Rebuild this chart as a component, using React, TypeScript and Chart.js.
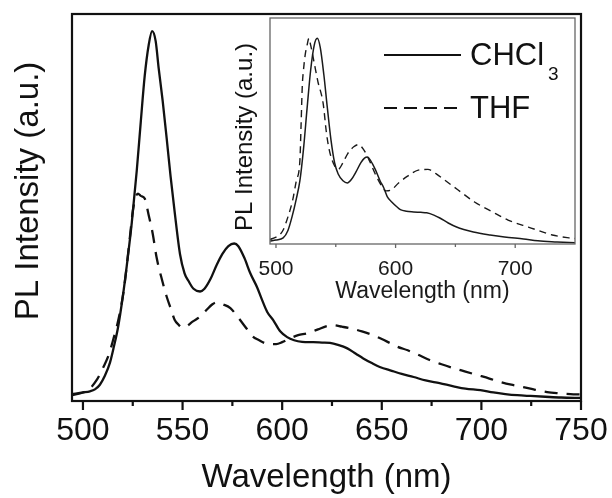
import React, { useEffect, useRef } from "react";
import { Chart, registerables } from "chart.js";
Chart.register(...registerables);

const FONT = "'Liberation Sans', Arial, Helvetica, sans-serif";

// ---------- main plot data ----------
const mainChcl3Nm = [494.5, 500, 503.5, 506, 508.5, 511, 513.6, 515.5, 517.6, 520, 522, 524.5, 527, 529, 531, 533, 534.7, 536.5, 538, 540, 542, 544, 546, 548.7, 551, 553, 555.5, 558.8, 561, 564, 567, 570, 573, 575.9, 578, 581, 584, 587.4, 590, 592.5, 595.5, 599, 602.5, 606, 610, 615.6, 620, 624, 628, 632.7, 637, 640.7, 645, 649, 655, 660, 666, 672, 679, 686, 692, 699.5, 706, 712, 718, 724.6, 732, 740, 750];
const mainChcl3Int = [0.018, 0.022, 0.025, 0.03, 0.042, 0.065, 0.1, 0.14, 0.19, 0.27, 0.35, 0.46, 0.595, 0.72, 0.84, 0.92, 0.956, 0.93, 0.86, 0.776, 0.68, 0.58, 0.49, 0.38, 0.33, 0.31, 0.29, 0.283, 0.29, 0.315, 0.35, 0.38, 0.4, 0.407, 0.4, 0.37, 0.33, 0.294, 0.26, 0.23, 0.209, 0.18, 0.165, 0.157, 0.153, 0.152, 0.151, 0.15, 0.145, 0.136, 0.122, 0.11, 0.098, 0.088, 0.078, 0.07, 0.062, 0.053, 0.046, 0.038, 0.032, 0.028, 0.022, 0.018, 0.015, 0.013, 0.011, 0.009, 0.008];

const mainThfNm = [494.5, 500, 503, 507, 510, 513, 515, 518, 520.6, 522, 523.5, 525, 526.5, 527.6, 529, 531, 533, 535, 537, 540, 542, 544, 546, 548, 550, 552, 555, 558.8, 562, 565, 567, 570, 574, 578, 582, 585, 588, 592.5, 597, 600, 604, 608, 612.6, 618, 622, 625.6, 630, 634, 640, 645.7, 650, 654, 658, 663, 668, 674, 680, 686, 692, 698, 704, 709.5, 715, 721, 727, 733, 739, 744.7, 750];
const mainThfInt = [0.015, 0.022, 0.03, 0.055, 0.085, 0.12, 0.155, 0.215, 0.29, 0.35, 0.42, 0.49, 0.527, 0.536, 0.53, 0.523, 0.48, 0.433, 0.37, 0.307, 0.27, 0.24, 0.21, 0.197, 0.19, 0.193, 0.205, 0.218, 0.235, 0.25, 0.255, 0.25, 0.24, 0.215, 0.188, 0.168, 0.158, 0.148, 0.147, 0.152, 0.162, 0.17, 0.175, 0.185, 0.193, 0.196, 0.192, 0.188, 0.18, 0.17, 0.16, 0.15, 0.14, 0.131, 0.12, 0.106, 0.095, 0.085, 0.076, 0.067, 0.058, 0.049, 0.042, 0.036, 0.029, 0.023, 0.02, 0.018, 0.017];

// ---------- inset data ----------
const insetChcl3Nm = [495, 500, 506, 510, 513.4, 517, 520, 523, 526, 529, 532, 534.5, 537, 540, 543, 546, 549, 552, 556, 559.7, 563, 567, 571, 574, 576.5, 579, 583, 587, 590, 593, 597, 601, 604, 609, 615, 621, 626, 632, 637, 644, 651, 657, 665, 679, 691, 707, 719, 735, 750];
const insetChcl3Int = [0.013, 0.018, 0.027, 0.06, 0.12, 0.2, 0.28, 0.42, 0.6, 0.77, 0.88, 0.91, 0.87, 0.75, 0.6, 0.46, 0.36, 0.31, 0.28, 0.27, 0.285, 0.32, 0.36, 0.38, 0.385, 0.37, 0.33, 0.28, 0.25, 0.21, 0.185, 0.165, 0.152, 0.145, 0.142, 0.14, 0.138, 0.128, 0.115, 0.093, 0.075, 0.064, 0.053, 0.04, 0.031, 0.022, 0.014, 0.009, 0.005];

const insetThfNm = [495, 500, 503, 506, 510, 514, 517, 520, 521, 522, 523, 524.5, 526, 527.5, 529, 532, 535, 539.5, 542, 544, 547, 552, 556, 560, 565, 569, 573, 578, 583, 588, 592, 596.6, 602.5, 610, 619, 627, 634, 641, 652, 666, 681, 694, 711, 731, 745, 750];
const insetThfInt = [0.02, 0.03, 0.04, 0.062, 0.12, 0.195, 0.28, 0.37, 0.53, 0.7, 0.77, 0.84, 0.88, 0.91, 0.88, 0.8, 0.72, 0.62, 0.5, 0.43, 0.37, 0.33, 0.36, 0.4, 0.43, 0.44, 0.42, 0.37, 0.31, 0.26, 0.235, 0.24, 0.27, 0.3, 0.327, 0.33, 0.31, 0.283, 0.24, 0.186, 0.142, 0.106, 0.075, 0.04, 0.027, 0.024];

// ---------- ticks & labels ----------
const mainMajorTicks = [500, 550, 600, 650, 700, 750];
const mainMinorTicks = [525, 575, 625, 675, 725];
const insetMajorTicks = [500, 600, 700];
const insetMinorTicks = [550, 650];
const xTitle = "Wavelength (nm)";
const yTitle = "PL Intensity (a.u.)";
const seriesNames = ["CHCl", "THF"];
const seriesSubscripts = ["3", ""];

const zip = (xs: number[], ys: number[]) => xs.map((x, i) => ({ x, y: ys[i] }));

function makeFramePlugin(opts: {
  id: string;
  color: string;
  width: number;
  major: number[];
  minor: number[];
  majorLen: number;
  minorLen: number;
  yTitle: string;
  yTitleFont: number;
  yTitleX: number;
  yTitleY: number;
  legend?: boolean;
}) {
  return {
    id: opts.id,
    afterDatasetsDraw(chart: any) {
      const { ctx, chartArea } = chart;
      const { left, right, top, bottom } = chartArea;
      const xs = chart.scales.x;
      ctx.save();
      ctx.strokeStyle = opts.color;
      ctx.lineWidth = opts.width;
      ctx.setLineDash([]);
      ctx.strokeRect(left, top, right - left, bottom - top);
      ctx.beginPath();
      opts.major.forEach((v) => {
        const px = xs.getPixelForValue(v);
        ctx.moveTo(px, bottom);
        ctx.lineTo(px, bottom + opts.majorLen);
      });
      opts.minor.forEach((v) => {
        const px = xs.getPixelForValue(v);
        ctx.moveTo(px, bottom);
        ctx.lineTo(px, bottom + opts.minorLen);
      });
      ctx.stroke();

      // y title
      ctx.fillStyle = "#111";
      ctx.font = `${opts.yTitleFont}px ${FONT}`;
      ctx.textAlign = "center";
      ctx.textBaseline = "middle";
      ctx.translate(opts.yTitleX, opts.yTitleY);
      ctx.rotate(-Math.PI / 2);
      ctx.fillText(opts.yTitle, 0, 0);
      ctx.restore();

      if (opts.legend) {
        ctx.save();
        ctx.strokeStyle = "#111";
        ctx.fillStyle = "#111";
        ctx.lineWidth = 2;
        const rows = [
          { y: 39, base: 49, dash: [] as number[] },
          { y: 92, base: 102, dash: [13, 7] },
        ];
        rows.forEach((r, i) => {
          ctx.setLineDash(r.dash);
          ctx.beginPath();
          ctx.moveTo(158, r.y);
          ctx.lineTo(235, r.y);
          ctx.stroke();
          ctx.setLineDash([]);
          ctx.font = `31px ${FONT}`;
          ctx.textAlign = "left";
          ctx.textBaseline = "alphabetic";
          ctx.fillText(seriesNames[i], 244, r.base);
          if (seriesSubscripts[i]) {
            const w = ctx.measureText(seriesNames[i]).width;
            ctx.font = `19px ${FONT}`;
            ctx.fillText(seriesSubscripts[i], 244 + w + 4, r.base + 15);
          }
        });
        ctx.restore();
      }
    },
  };
}

export default function App() {
  const mainRef = useRef<HTMLCanvasElement>(null);
  const insetRef = useRef<HTMLCanvasElement>(null);

  useEffect(() => {
    const main = new Chart(mainRef.current as HTMLCanvasElement, {
      type: "line",
      data: {
        datasets: [
          {
            label: "CHCl3",
            data: zip(mainChcl3Nm, mainChcl3Int),
            borderColor: "#111",
            borderWidth: 2.3,
            pointRadius: 0,
            cubicInterpolationMode: "monotone",
            fill: false,
          },
          {
            label: "THF",
            data: zip(mainThfNm, mainThfInt),
            borderColor: "#111",
            borderWidth: 2.3,
            borderDash: [13, 9],
            pointRadius: 0,
            cubicInterpolationMode: "monotone",
            fill: false,
          },
        ],
      },
      options: {
        animation: false,
        responsive: false,
        maintainAspectRatio: false,
        layout: { padding: { top: 14, right: 31, left: 0, bottom: 0 } },
        plugins: { legend: { display: false }, tooltip: { enabled: false } },
        scales: {
          x: {
            type: "linear",
            min: 494.5,
            max: 750,
            afterFit: (s: any) => {
              s.height = 97;
            },
            grid: { display: false },
            border: { display: false },
            ticks: {
              stepSize: 50,
              includeBounds: false,
              autoSkip: false,
              maxRotation: 0,
              padding: 3,
              color: "#111",
              font: { family: FONT, size: 32 },
            },
            title: {
              display: true,
              text: xTitle,
              color: "#111",
              font: { family: FONT, size: 33 },
              padding: { top: 0, bottom: 0 },
            },
          },
          y: {
            min: 0,
            max: 1,
            afterFit: (s: any) => {
              s.width = 72;
            },
            grid: { display: false },
            border: { display: false },
            ticks: { display: false },
          },
        },
      } as any,
      plugins: [
        makeFramePlugin({
          id: "mainFrame",
          color: "#111",
          width: 2.2,
          major: mainMajorTicks,
          minor: mainMinorTicks,
          majorLen: 9,
          minorLen: 5,
          yTitle,
          yTitleFont: 33,
          yTitleX: 29,
          yTitleY: 191,
        }),
      ],
    });

    const inset = new Chart(insetRef.current as HTMLCanvasElement, {
      type: "line",
      data: {
        datasets: [
          {
            label: "CHCl3",
            data: zip(insetChcl3Nm, insetChcl3Int),
            borderColor: "#1a1a1a",
            borderWidth: 1.5,
            pointRadius: 0,
            cubicInterpolationMode: "monotone",
            fill: false,
          },
          {
            label: "THF",
            data: zip(insetThfNm, insetThfInt),
            borderColor: "#1a1a1a",
            borderWidth: 1.4,
            borderDash: [7, 5],
            pointRadius: 0,
            cubicInterpolationMode: "monotone",
            fill: false,
          },
        ],
      },
      options: {
        animation: false,
        responsive: false,
        maintainAspectRatio: false,
        layout: { padding: { top: 2, right: 4, left: 0, bottom: 0 } },
        plugins: { legend: { display: false }, tooltip: { enabled: false } },
        scales: {
          x: {
            type: "linear",
            min: 495,
            max: 750,
            afterFit: (s: any) => {
              s.height = 62;
            },
            grid: { display: false },
            border: { display: false },
            ticks: {
              stepSize: 100,
              includeBounds: false,
              autoSkip: false,
              maxRotation: 0,
              padding: 5,
              color: "#1a1a1a",
              font: { family: FONT, size: 21 },
            },
            title: {
              display: true,
              text: xTitle,
              color: "#1a1a1a",
              font: { family: FONT, size: 23 },
              padding: { top: 0, bottom: 1 },
            },
          },
          y: {
            min: 0,
            max: 1,
            afterFit: (s: any) => {
              s.width = 44;
            },
            grid: { display: false },
            border: { display: false },
            ticks: { display: false },
          },
        },
      } as any,
      plugins: [
        makeFramePlugin({
          id: "insetFrame",
          color: "#666",
          width: 1.3,
          major: insetMajorTicks,
          minor: insetMinorTicks,
          majorLen: 4,
          minorLen: 3,
          yTitle,
          yTitleFont: 24,
          yTitleX: 19,
          yTitleY: 121,
          legend: true,
        }),
      ],
    });

    return () => {
      main.destroy();
      inset.destroy();
    };
  }, []);

  return (
    <div style={{ position: "absolute", left: 0, top: 0, width: 612, height: 498, background: "#fff" }}>
      <canvas
        ref={mainRef}
        width={612}
        height={498}
        style={{ position: "absolute", left: 0, top: 0, width: 612, height: 498 }}
      />
      <canvas
        ref={insetRef}
        width={353}
        height={290}
        style={{ position: "absolute", left: 226, top: 16, width: 353, height: 290 }}
      />
    </div>
  );
}
